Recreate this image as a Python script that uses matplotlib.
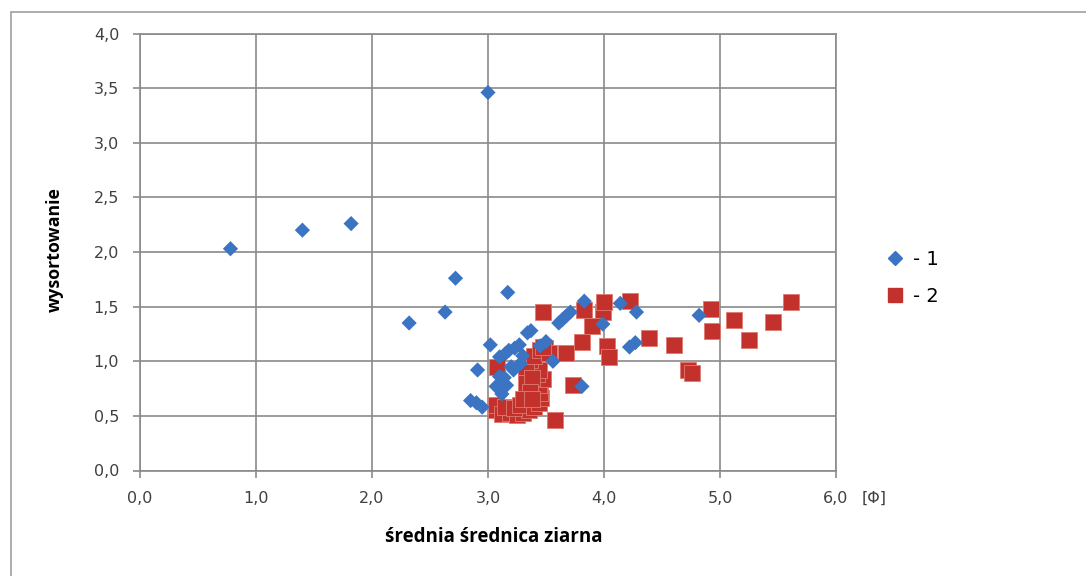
import matplotlib
matplotlib.use('Agg')
from matplotlib import pyplot as plt
from matplotlib.lines import Line2D
from matplotlib.ticker import FuncFormatter

# series 1 (diamonds)
x_1 = [0.78, 1.40, 1.82, 3.00, 2.72, 2.63, 2.32, 3.02, 3.17,
       3.67, 3.71, 3.61, 3.64, 3.83, 4.14, 4.28, 3.99, 3.37, 3.34, 4.22, 4.27, 4.82,
       3.56, 2.91, 3.81, 2.85, 2.95, 2.90,
       3.27, 3.23, 3.18, 3.10, 3.15, 3.28, 3.20, 3.14, 3.10, 3.07, 3.16, 3.12,
       3.50, 3.45, 3.22, 3.30, 3.12]
y_1 = [2.03, 2.20, 2.26, 3.46, 1.76, 1.45, 1.35, 1.15, 1.63,
       1.41, 1.45, 1.35, 1.38, 1.55, 1.53, 1.45, 1.34, 1.28, 1.26, 1.13, 1.17, 1.42,
       1.00, 0.92, 0.77, 0.64, 0.58, 0.62,
       1.15, 1.12, 1.10, 1.04, 1.07, 0.98, 0.95, 0.85, 0.86, 0.77, 0.78, 0.70,
       1.18, 1.14, 0.92, 1.05, 0.80]

# series 2 (squares)
x_2 = [3.47, 3.83, 3.99, 4.00, 4.22, 3.90, 3.81, 4.03, 4.04, 4.39, 4.60, 4.72, 4.76,
       4.92, 4.93, 5.12, 5.25, 5.46, 5.61,
       3.67, 3.73, 3.58, 3.49, 3.08,
       3.07, 3.07, 3.12, 3.19, 3.25, 3.30, 3.35, 3.15, 3.22, 3.28, 3.40, 3.44, 3.46,
       3.45, 3.44, 3.47, 3.42, 3.44, 3.36, 3.33, 3.33, 3.38, 3.36, 3.40, 3.45, 3.53,
       3.47, 3.30, 3.38]
y_2 = [1.45, 1.47, 1.45, 1.54, 1.55, 1.32, 1.18, 1.14, 1.04, 1.21, 1.15, 0.92, 0.89,
       1.48, 1.28, 1.38, 1.19, 1.36, 1.54,
       1.08, 0.78, 0.46, 1.12, 0.95,
       0.55, 0.60, 0.52, 0.53, 0.51, 0.53, 0.55, 0.58, 0.57, 0.60, 0.58, 0.62, 0.66,
       0.71, 0.78, 0.84, 0.88, 0.92, 1.01, 0.95, 0.80, 0.85, 0.72, 1.05, 1.10, 1.08,
       1.13, 0.65, 0.65]

series_labels = ['- 1', '- 2']

blue = '#3a74c2'
red = '#c2312c'
grid_col = '#8a8a8a'
text_col = '#404040'

fig = plt.figure(figsize=(10.86, 5.76), dpi=100)
ax = fig.add_axes([140 / 1086, 1 - 470.5 / 576, 696 / 1086, 437 / 576])

# outer chart frame
fig.add_artist(plt.Rectangle((11 / 1086, -0.1), 1.2, 1 - 12 / 576 + 0.1,
                             transform=fig.transFigure, fill=False,
                             edgecolor='#a0a0a0', linewidth=1.2))

ax.scatter(x_2, y_2, marker='s', s=120, color=red, edgecolors='#e07a70',
           linewidths=0.6, zorder=3)
ax.scatter(x_1, y_1, marker='D', s=60, color=blue, edgecolors='none', zorder=4)

ax.set_xlim(0, 6)
ax.set_ylim(0, 4)
ax.set_xticks([0, 1, 2, 3, 4, 5, 6])
ax.set_yticks([0, 0.5, 1, 1.5, 2, 2.5, 3, 3.5, 4])
fmt = FuncFormatter(lambda v, p: f'{v:.1f}'.replace('.', ','))
ax.xaxis.set_major_formatter(fmt)
ax.yaxis.set_major_formatter(fmt)
ax.grid(True, color=grid_col, linewidth=1.2, zorder=0)
ax.set_axisbelow(True)
for sp in ax.spines.values():
    sp.set_color(grid_col)
    sp.set_linewidth(1.2)
ax.tick_params(direction='out', length=5, width=1.2, color=grid_col,
               labelsize=11.5, labelcolor=text_col, pad=10)

ax.text(862, 576 - 498, '[Φ]', transform=None, fontsize=11.5, color=text_col,
        ha='left', va='center')

fig.text(494 / 1086, 1 - 537 / 576, 'średnia średnica ziarna', fontsize=13.5,
         fontweight='bold', ha='center', va='center', family='Open Sans')
fig.text(55 / 1086, 1 - 250 / 576, 'wysortowanie', fontsize=12.8, rotation=90,
         fontweight='bold', ha='center', va='center', family='Open Sans')

handles = [Line2D([], [], marker='D', color=blue, linestyle='none', markersize=7),
           Line2D([], [], marker='s', color=red, linestyle='none', markersize=10)]
fig.legend(handles, series_labels, loc='center left',
           bbox_to_anchor=(866 / 1086, 1 - 278 / 576), frameon=False,
           fontsize=14, handletextpad=0.3, labelspacing=0.95, handlelength=1.2)

fig.savefig('out.png', dpi=100)
